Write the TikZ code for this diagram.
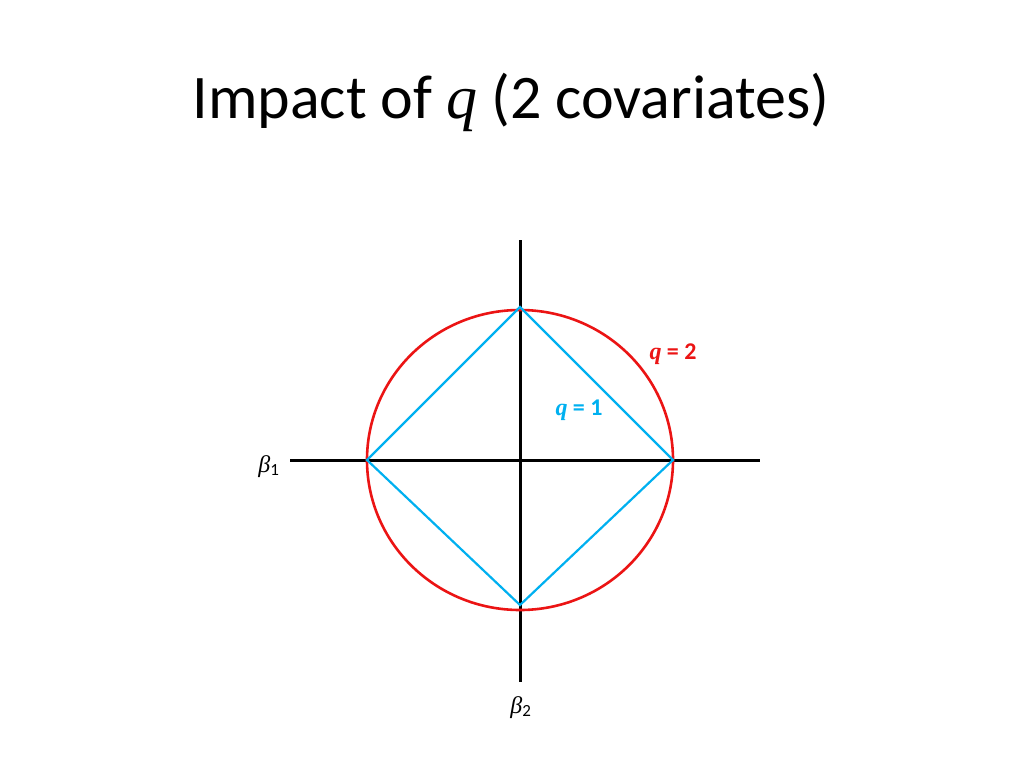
\documentclass[tikz,border=0pt]{standalone}
\usepackage{fontspec}
\setmainfont{Carlito}
\newfontfamily\serifit{Liberation Serif}
\definecolor{qred}{RGB}{235,20,20}
\definecolor{qblue}{RGB}{0,176,240}
\begin{document}
\begin{tikzpicture}[x=1pt,y=-1pt,
  axis/.style={line width=3pt,black},
  lbl/.style={inner sep=0pt,anchor=base},
]
\useasboundingbox (0,0) rectangle (1024,768);
\node[lbl,font=\fontsize{62}{66}\selectfont] (title) at (511,118) {Impact of {\serifit\itshape q} (2 covariates)};
\coordinate (O) at (520,460);
\coordinate (L) at (290,460);
\coordinate (R) at (760,460);
\coordinate (T) at (520,240);
\coordinate (B) at (520,682);
\coordinate (P1) at (367,460);
\coordinate (P2) at (520,307);
\coordinate (P3) at (673,460);
\coordinate (P4) at (520,605);
\draw[axis] (L) -- (R);
\draw[axis] (T) -- (B);
\draw[qred,line width=2.6pt] (O) ellipse [x radius=153, y radius=150];
\draw[qblue,line width=2.2pt,line join=miter] (P1) -- (P2) -- (P3) -- (P4) -- cycle;
\node[lbl,text=qred,font=\fontsize{24}{28}\selectfont\bfseries] (q2) at (673,359) {{\serifit\bfseries\itshape q} = 2};
\node[lbl,text=qblue,font=\fontsize{24}{28}\selectfont\bfseries] (q1) at (579,415) {{\serifit\bfseries\itshape q} = 1};
\node[lbl,font=\fontsize{24}{28}\selectfont] (b1) at (269,472) {{\serifit\itshape β}\textsubscript{\fontsize{17}{19}\selectfont 1}};
\node[lbl,font=\fontsize{24}{28}\selectfont] (b2) at (521,713) {{\serifit\itshape β}\textsubscript{\fontsize{17}{19}\selectfont 2}};
\end{tikzpicture}
\end{document}
